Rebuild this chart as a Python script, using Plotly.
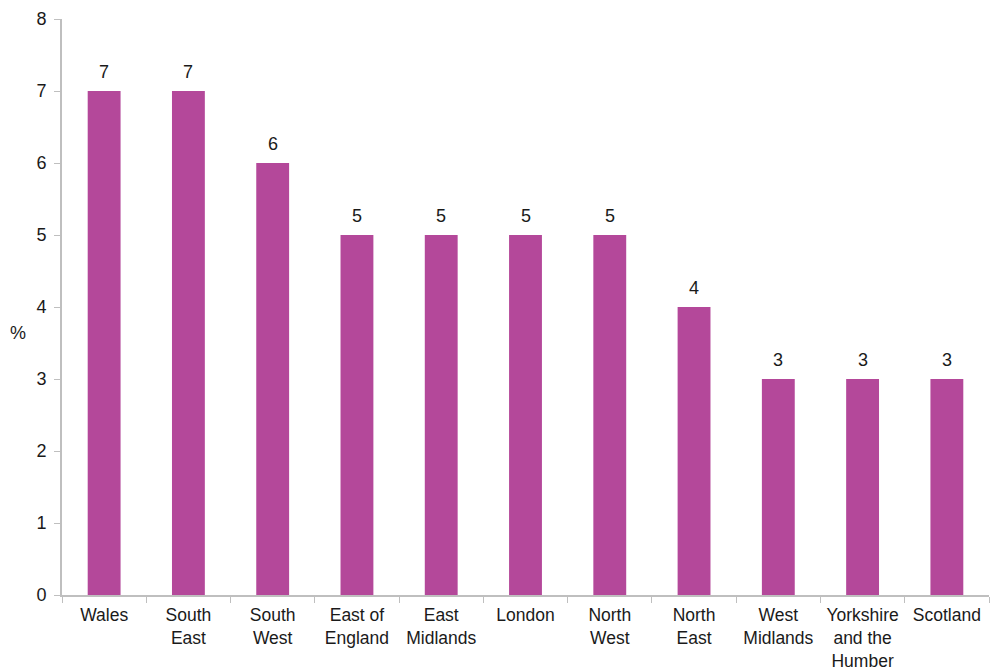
import plotly.graph_objects as go

regions = ["Wales", "South<br>East", "South<br>West", "East of<br>England", "East<br>Midlands",
           "London", "North<br>West", "North<br>East", "West<br>Midlands",
           "Yorkshire<br>and the<br>Humber", "Scotland"]
percent = [7, 7, 6, 5, 5, 5, 5, 4, 3, 3, 3]
y_ticks = [0, 1, 2, 3, 4, 5, 6, 7, 8]

bar_color = "#B4489A"
axis_color = "#BFBFBF"
text_color = "#1A1A1A"
font_family = "Liberation Sans, Arial, sans-serif"
font_size = 18

fig = go.Figure(go.Bar(
    x=regions, y=percent,
    marker=dict(color=bar_color, line=dict(width=0)),
    hoverinfo="x+y",
))

# value labels above each bar
for region, value in zip(regions, percent):
    fig.add_annotation(x=region, y=value, text=str(value), showarrow=False,
                       yanchor="bottom", yshift=7,
                       font=dict(size=font_size, color=text_color))

fig.update_layout(
    width=991, height=670,
    margin=dict(l=62, r=2, t=19, b=75),
    paper_bgcolor="white", plot_bgcolor="white",
    bargap=0.61, showlegend=False,
    font=dict(family=font_family, size=font_size, color=text_color),
)
fig.update_xaxes(
    showline=True, linecolor=axis_color, linewidth=2,
    ticks="outside", tickson="boundaries", ticklen=6, tickcolor=axis_color, tickwidth=1,
    showgrid=False, tickfont=dict(size=17.5), tickangle=0, ticklabelstandoff=3,
    automargin=False,
)
fig.update_yaxes(
    range=[0, 8], tickvals=y_ticks, showline=True, linecolor=axis_color, linewidth=2,
    ticks="outside", ticklen=6, tickcolor=axis_color, tickwidth=1,
    showgrid=False, zeroline=False, tickfont=dict(size=font_size), ticklabelstandoff=4,
    automargin=False,
)
fig.add_annotation(text="%", xref="paper", yref="paper", x=-0.048, y=0.455,
                   showarrow=False, xanchor="center",
                   font=dict(size=font_size, color=text_color))

fig.write_html("out.html")
